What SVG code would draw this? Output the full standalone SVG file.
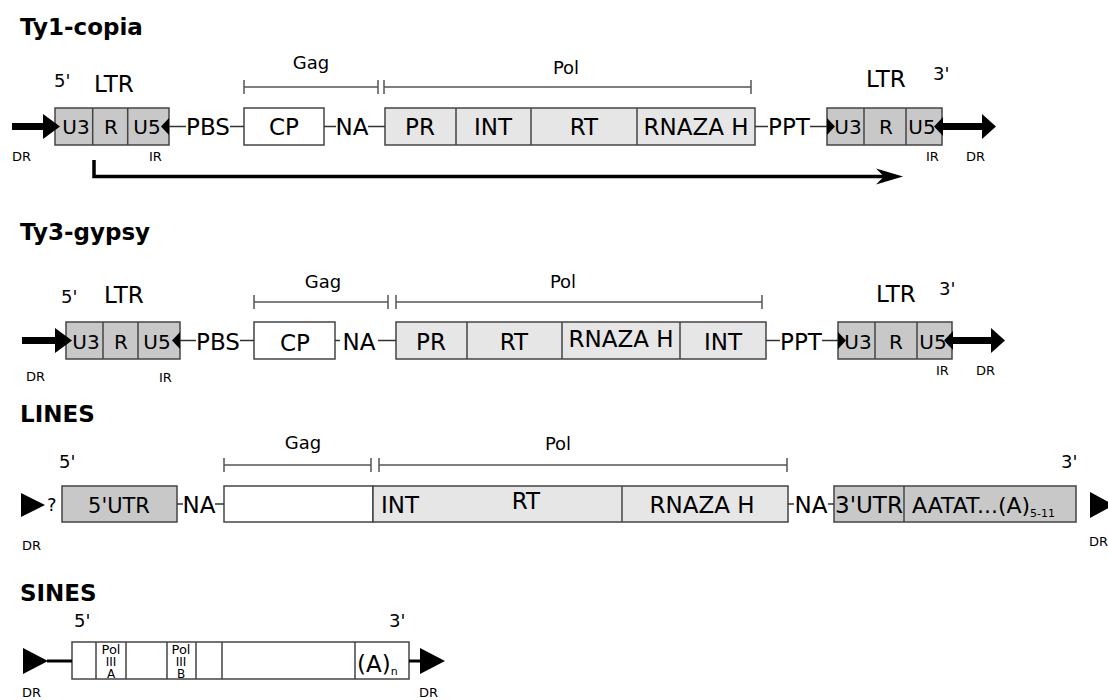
<svg xmlns="http://www.w3.org/2000/svg" width="1108" height="700" viewBox="0 0 1108 700">
<style>
text{font-family:"DejaVu Sans","Liberation Sans",sans-serif;fill:#000}
.title{font-weight:bold;font-size:23px}
.big{font-size:23px}
.mid{font-size:23px;text-anchor:middle}
.ltr{font-size:20px;text-anchor:middle}
.lbl{font-size:18px;text-anchor:middle}
.prime{font-size:18px}
.tiny{font-size:13px}
.c{text-anchor:middle}
.dk{fill:#c8c8c8;stroke:#444;stroke-width:1.5}
.lt{fill:#e6e6e6;stroke:#444;stroke-width:1.5}
.wh{fill:#fff;stroke:#444;stroke-width:1.5}
.dv{stroke:#444;stroke-width:1.5;fill:none}
.ln{stroke:#333;stroke-width:1.3;fill:none}
.br{stroke:#555;stroke-width:1.5;fill:none}
.thick{stroke:#000;stroke-width:7;fill:none}
.arr{fill:#000}
</style>

<!-- Titles -->
<text class="title" x="20" y="35">Ty1-copia</text>
<text class="title" x="20" y="240">Ty3-gypsy</text>
<text class="title" x="20" y="422">LINES</text>
<text class="title" x="20" y="601">SINES</text>

<!-- ================= Ty1-copia ================= -->
<g id="ty1-ltr5">
  <rect class="dk" x="55" y="108" width="114" height="37"/>
  <path class="dv" d="M92.7 108V145M127.7 108V145"/>
  <text class="ltr" x="76" y="134">U3</text>
  <text class="ltr" x="111" y="134">R</text>
  <text class="ltr" x="147" y="134">U5</text>
  <polygon class="arr" points="169,118 161,126.5 169,135"/>
  <text class="prime" x="54" y="87">5'</text>
  <text class="big" x="94" y="92">LTR</text>
  <text class="tiny" x="149" y="161">IR</text>
</g>
<g id="ty1-dr5">
  <path class="thick" d="M12 126.5H46"/>
  <polygon class="arr" points="43,114 60,126.5 43,139"/>
  <text class="tiny" x="12" y="161">DR</text>
</g>
<g id="ty1-pbs"><text class="big c" x="208" y="135">PBS</text></g>
<g id="ty1-cp">
  <rect class="wh" x="244" y="108" width="80" height="37"/>
  <text class="mid" x="284" y="135">CP</text>
</g>
<g id="ty1-na"><text class="big c" x="352" y="135">NA</text></g>
<g id="ty1-pol">
  <rect class="lt" x="385" y="108" width="370" height="37"/>
  <path class="dv" d="M456 108V145M531 108V145M637 108V145"/>
  <text class="mid" x="420" y="135">PR</text>
  <text class="mid" x="493" y="135">INT</text>
  <text class="mid" x="584" y="135">RT</text>
  <text class="mid" x="696" y="135">RNAZA H</text>
</g>
<g id="ty1-ppt"><text class="big c" x="789" y="135">PPT</text></g>
<g id="ty1-ltr3">
  <rect class="dk" x="827" y="108" width="115" height="37"/>
  <path class="dv" d="M864 108V145M906 108V145"/>
  <polygon class="arr" points="827,118 835,126.5 827,135"/>
  <text class="ltr" x="848" y="134">U3</text>
  <text class="ltr" x="886" y="134">R</text>
  <text class="ltr" x="922" y="134">U5</text>
  <polygon class="arr" points="943,117 934,126.5 943,136"/>
  <text class="big" x="866" y="87">LTR</text>
  <text class="prime" x="933" y="80">3'</text>
  <text class="tiny" x="926" y="161">IR</text>
</g>
<g id="ty1-dr3">
  <path class="thick" d="M942 126.5H984"/>
  <polygon class="arr" points="982,114 996,126.5 982,139"/>
  <text class="tiny" x="966" y="161">DR</text>
</g>
<g id="ty1-gag-label">
  <path class="br" d="M244 87H378M244 80V94M378 80V94"/>
  <text class="lbl" x="311" y="69">Gag</text>
</g>
<g id="ty1-pol-label">
  <path class="br" d="M384 87H751M384 80V94M751 80V94"/>
  <text class="lbl" x="566" y="74">Pol</text>
</g>

<!-- ================= Ty3-gypsy ================= -->
<g id="ty3-ltr5">
  <rect class="dk" x="66" y="322" width="114" height="37"/>
  <path class="dv" d="M103 322V359M138 322V359"/>
  <text class="ltr" x="86" y="349">U3</text>
  <text class="ltr" x="121" y="349">R</text>
  <text class="ltr" x="157" y="349">U5</text>
  <polygon class="arr" points="180,332 172,340.5 180,349"/>
  <text class="prime" x="61" y="303">5'</text>
  <text class="big" x="104" y="303">LTR</text>
  <text class="tiny" x="159" y="382">IR</text>
</g>
<g id="ty3-dr5">
  <path class="thick" d="M22 340.5H58"/>
  <polygon class="arr" points="55,328 72,340.5 55,353"/>
  <text class="tiny" x="26" y="381">DR</text>
</g>
<g id="ty3-pbs"><text class="big c" x="218" y="350">PBS</text></g>
<g id="ty3-cp">
  <rect class="wh" x="254" y="322" width="81" height="37"/>
  <text class="mid" x="295" y="351">CP</text>
</g>
<g id="ty3-na"><text class="big c" x="359" y="350">NA</text></g>
<g id="ty3-pol">
  <rect class="lt" x="396" y="322" width="370" height="37"/>
  <path class="dv" d="M467 322V359M562 322V359M680 322V359"/>
  <text class="mid" x="431" y="350">PR</text>
  <text class="mid" x="514" y="350">RT</text>
  <text class="mid" x="621" y="347">RNAZA H</text>
  <text class="mid" x="723" y="350">INT</text>
</g>
<g id="ty3-ppt"><text class="big c" x="801" y="350">PPT</text></g>
<g id="ty3-ltr3">
  <rect class="dk" x="838" y="322" width="114" height="37"/>
  <path class="dv" d="M875 322V359M917 322V359"/>
  <polygon class="arr" points="838,332 846,340.5 838,349"/>
  <text class="ltr" x="858" y="349">U3</text>
  <text class="ltr" x="896" y="349">R</text>
  <text class="ltr" x="933" y="349">U5</text>
  <polygon class="arr" points="953,331 944,340.5 953,350"/>
  <text class="big" x="876" y="302">LTR</text>
  <text class="prime" x="939" y="295">3'</text>
  <text class="tiny" x="936" y="375">IR</text>
</g>
<g id="ty3-dr3">
  <path class="thick" d="M952 340.5H993"/>
  <polygon class="arr" points="991,328 1005,340.5 991,353"/>
  <text class="tiny" x="976" y="375">DR</text>
</g>
<g id="ty3-gag-label">
  <path class="br" d="M254 302H388M254 295V309M388 295V309"/>
  <text class="lbl" x="323" y="288">Gag</text>
</g>
<g id="ty3-pol-label">
  <path class="br" d="M396 302H762M396 295V309M762 295V309"/>
  <text class="lbl" x="563" y="288">Pol</text>
</g>

<!-- ================= LINES ================= -->
<g id="lines-dr5">
  <polygon class="arr" points="21,493 45,505 21,517"/>
  <text class="prime" x="47" y="511">?</text>
  <text class="tiny" x="22" y="550">DR</text>
</g>
<g id="lines-utr5">
  <rect class="dk" x="62" y="486" width="115" height="36"/>
  <text class="c" x="119" y="513" style="font-size:21px">5'UTR</text>
  <text class="prime" x="59" y="468">5'</text>
</g>
<g id="lines-na1"><text class="big c" x="199" y="513">NA</text></g>
<g id="lines-gag">
  <rect class="wh" x="224" y="486" width="149" height="36"/>
</g>
<g id="lines-pol">
  <rect class="lt" x="373" y="486" width="415" height="36"/>
  <path class="dv" d="M622 486V522"/>
  <text class="big" x="381" y="513">INT</text>
  <text class="mid" x="526" y="509">RT</text>
  <text class="mid" x="702" y="513">RNAZA H</text>
</g>
<g id="lines-na2"><text class="big c" x="811" y="513">NA</text></g>
<g id="lines-utr3">
  <rect class="dk" x="834" y="486" width="242" height="36"/>
  <path class="dv" d="M904 486V522"/>
  <text class="mid" x="869" y="513">3'UTR</text>
  <text x="912" y="513" style="font-size:22px">AATAT...(A)<tspan style="font-size:11px" dy="4">5-11</tspan></text>
  <text class="prime" x="1061" y="468">3'</text>
</g>
<g id="lines-dr3">
  <polygon class="arr" points="1090,492 1114,505 1090,518"/>
  <text class="tiny" x="1089" y="546">DR</text>
</g>
<g id="lines-gag-label">
  <path class="br" d="M224 465H371M224 458V472M371 458V472"/>
  <text class="lbl" x="303" y="449">Gag</text>
</g>
<g id="lines-pol-label">
  <path class="br" d="M379 465H787M379 458V472M787 458V472"/>
  <text class="lbl" x="558" y="450">Pol</text>
</g>

<!-- ================= SINES ================= -->
<g id="sines-dr5">
  <polygon class="arr" points="23,648 48,661 23,674"/>
  <text class="tiny" x="22" y="697">DR</text>
</g>
<g id="sines-body">
  <rect class="wh" x="72" y="642" width="337" height="37"/>
  <path class="dv" d="M96 642V679M126 642V679M167 642V679M196 642V679M222 642V679M355 642V679"/>
  <text class="c" x="111" y="654" style="font-size:13px">Pol</text>
  <text class="c" x="111" y="666" style="font-size:12px">III</text>
  <text class="c" x="111" y="678" style="font-size:12px">A</text>
  <text class="c" x="181" y="654" style="font-size:13px">Pol</text>
  <text class="c" x="181" y="666" style="font-size:12px">III</text>
  <text class="c" x="181" y="678" style="font-size:12px">B</text>
  <text x="357" y="672" style="font-size:23px">(A)<tspan style="font-size:11px" dy="3">n</tspan></text>
  <text class="prime" x="74" y="627">5'</text>
  <text class="prime" x="389" y="627">3'</text>
</g>
<g id="sines-dr3">
  <polygon class="arr" points="420,648 445,661 420,674"/>
  <text class="tiny" x="419" y="697">DR</text>
</g>

<!-- ================= Connectors ================= -->
<g id="connectors">
  <!-- Ty1 -->
  <path class="ln" d="M169 126.5H186M230 126.5H244M324 126.5H336M368 126.5H385M755 126.5H768M810 126.5H827"/>
  <path d="M94 160V176.5H890" stroke="#000" stroke-width="3.5" fill="none"/>
  <path class="arr" d="M903 176.5L876 168.5L884 176.5L876 184.5Z"/>
  <!-- Ty3 -->
  <path class="ln" d="M180 340.5H196M240 340.5H254M335 340.5H340M378 340.5H396M766 340.5H780M822 340.5H838"/>
  <!-- LINES -->
  <path class="ln" d="M177 504H183M215 504H224M788 504H794M828 504H834"/>
  <!-- SINES -->
  <path d="M47 661H72M409 661H421" stroke="#000" stroke-width="3" fill="none"/>
</g>
</svg>
